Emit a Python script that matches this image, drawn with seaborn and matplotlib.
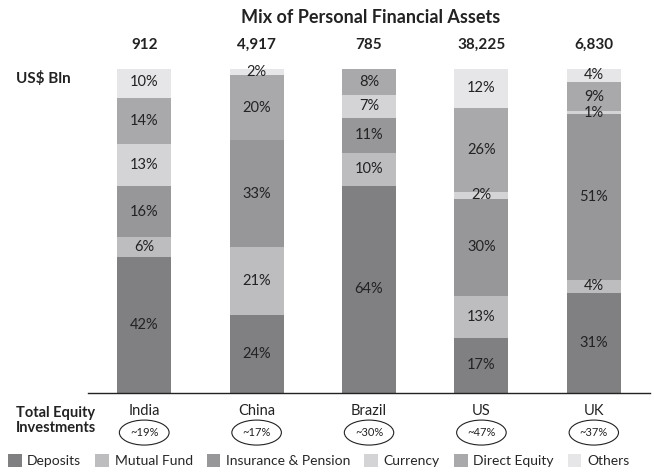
import numpy as np
import pandas as pd
import matplotlib
matplotlib.use("Agg")
import matplotlib.pyplot as plt
from matplotlib.patches import Patch
import seaborn as sns

countries = ["India", "China", "Brazil", "US", "UK"]
totals = ["912", "4,917", "785", "38,225", "6,830"]
equity_share = ["~19%", "~17%", "~30%", "~47%", "~37%"]

asset_types = ["Deposits", "Mutual Fund", "Insurance & Pension",
               "Currency", "Direct Equity", "Others"]
deposits = [42, 24, 64, 17, 31]
mutual_fund = [6, 21, 10, 13, 4]
insurance = [16, 33, 11, 30, 51]
currency = [13, 0, 7, 2, 1]
direct_equity = [14, 20, 8, 26, 9]
others = [10, 2, 0, 12, 4]

colors = ["#808083", "#bdbdc0", "#97979a", "#d4d4d6", "#a9a9ac", "#e6e6e8"]

sns.set_theme(style="white")
plt.rcParams["font.family"] = ["Lato", "DejaVu Sans"]

layers = [deposits, mutual_fund, insurance, currency, direct_equity, others]
df = pd.DataFrame({"country": countries})
for name, vals in zip(asset_types, layers):
    df[name] = vals
cum = df[asset_types].cumsum(axis=1)

fig = plt.figure(figsize=(6.54, 4.74), dpi=100)
ax = fig.add_axes([0.1346, 0.1709, 0.8593, 0.6835])

# stacked bars: draw cumulative tops from the top layer down
for name, col in reversed(list(zip(asset_types, colors))):
    sns.barplot(x=df["country"], y=cum[name], color=col, width=0.48,
                linewidth=0, saturation=1, ax=ax)

# percentage labels in the middle of each segment
for i in range(len(countries)):
    base = 0
    for name in asset_types:
        v = df.loc[i, name]
        if v > 0:
            ax.text(i, base + v / 2, f"{v}%", ha="center", va="center",
                    fontsize=10.5, color="#222222")
        base += v

ax.set_ylim(0, 100)
ax.set_xlim(-0.5, 4.5)
ax.set_yticks([])
ax.set_xlabel("")
ax.set_ylabel("")
for s in ["top", "right", "left"]:
    ax.spines[s].set_visible(False)
ax.spines["bottom"].set_color("#222222")
ax.spines["bottom"].set_linewidth(1.0)
ax.set_xticks(range(len(countries)))
ax.set_xticklabels(countries, fontsize=10.5, color="#222222")
ax.tick_params(axis="x", which="major", length=0, pad=8)
ax.set_xticks(np.arange(-0.5, 5, 1), minor=True)
ax.tick_params(axis="x", which="minor", length=4, direction="inout",
               color="#222222", width=0.8)

# total assets above each bar
for i, t in enumerate(totals):
    ax.annotate(t, xy=(i, 1.0), xycoords=("data", "axes fraction"),
                xytext=(0, 17.5), textcoords="offset points", ha="center",
                va="center", fontsize=11, fontweight="bold", color="#222222")

# equity share in ellipses
for i, e in enumerate(equity_share):
    ax.annotate(e, xy=(i, 0), xycoords=("data", "axes fraction"),
                xytext=(0, -28.5), textcoords="offset points", ha="center",
                va="center", fontsize=8, color="#222222",
                bbox=dict(boxstyle="ellipse,pad=0.3", fc="white",
                          ec="#222222", lw=0.8))

fig.text(0.566, 0.963, "Mix of Personal Financial Assets", ha="center",
         va="center", fontsize=13, fontweight="bold", color="#222222")
fig.text(0.025, 0.835, "US$ Bln", ha="left", va="center", fontsize=11,
         fontweight="bold", color="#222222")
fig.text(0.025, 0.113, "Total Equity\nInvestments", ha="left", va="center",
         fontsize=10.5, fontweight="bold", color="#222222", linespacing=1.15)

handles = [Patch(facecolor=c, edgecolor="none", label=n)
           for n, c in zip(asset_types, colors)]
fig.legend(handles=handles, loc="lower center", ncol=6, frameon=False,
           bbox_to_anchor=(0.487, -0.012), fontsize=10, handlelength=1.0,
           handleheight=1.0, handletextpad=0.4, columnspacing=1.0)

fig.savefig("out.png", dpi=100)
